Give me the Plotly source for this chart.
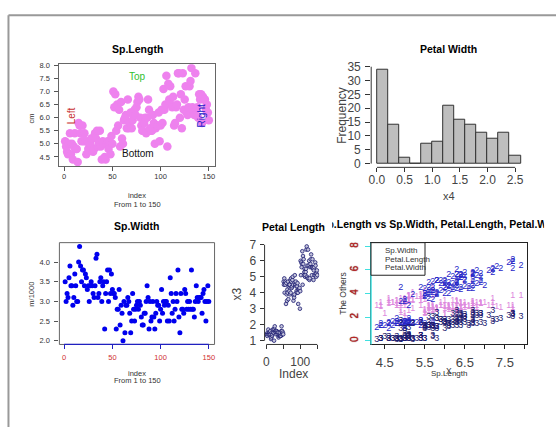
import plotly.graph_objects as go

# ---------------- data (iris) ----------------
sepal_length = [5.1,4.9,4.7,4.6,5.0,5.4,4.6,5.0,4.4,4.9,5.4,4.8,4.8,4.3,5.8,5.7,5.4,5.1,5.7,5.1,5.4,5.1,4.6,5.1,4.8,5.0,5.0,5.2,5.2,4.7,4.8,5.4,5.2,5.5,4.9,5.0,5.5,4.9,4.4,5.1,5.0,4.5,4.4,5.0,5.1,4.8,5.1,4.6,5.3,5.0,
                7.0,6.4,6.9,5.5,6.5,5.7,6.3,4.9,6.6,5.2,5.0,5.9,6.0,6.1,5.6,6.7,5.6,5.8,6.2,5.6,5.9,6.1,6.3,6.1,6.4,6.6,6.8,6.7,6.0,5.7,5.5,5.5,5.8,6.0,5.4,6.0,6.7,6.3,5.6,5.5,5.5,6.1,5.8,5.0,5.6,5.7,5.7,6.2,5.1,5.7,
                6.3,5.8,7.1,6.3,6.5,7.6,4.9,7.3,6.7,7.2,6.5,6.4,6.8,5.7,5.8,6.4,6.5,7.7,7.7,6.0,6.9,5.6,7.7,6.3,6.7,7.2,6.2,6.1,6.4,7.2,7.4,7.9,6.4,6.3,6.1,7.7,6.3,6.4,6.0,6.9,6.7,6.9,5.8,6.8,6.7,6.7,6.3,6.5,6.2,5.9]
sepal_width = [3.5,3.0,3.2,3.1,3.6,3.9,3.4,3.4,2.9,3.1,3.7,3.4,3.0,3.0,4.0,4.4,3.9,3.5,3.8,3.8,3.4,3.7,3.6,3.3,3.4,3.0,3.4,3.5,3.4,3.2,3.1,3.4,4.1,4.2,3.1,3.2,3.5,3.6,3.0,3.4,3.5,2.3,3.2,3.5,3.8,3.0,3.8,3.2,3.7,3.3,
               3.2,3.2,3.1,2.3,2.8,2.8,3.3,2.4,2.9,2.7,2.0,3.0,2.2,2.9,2.9,3.1,3.0,2.7,2.2,2.5,3.2,2.8,2.5,2.8,2.9,3.0,2.8,3.0,2.9,2.6,2.4,2.4,2.7,2.7,3.0,3.4,3.1,2.3,3.0,2.5,2.6,3.0,2.6,2.3,2.7,3.0,2.9,2.9,2.5,2.8,
               3.3,2.7,3.0,2.9,3.0,3.0,2.5,2.9,2.5,3.6,3.2,2.7,3.0,2.5,2.8,3.2,3.0,3.8,2.6,2.2,3.2,2.8,2.8,2.7,3.3,3.2,2.8,3.0,2.8,3.0,2.8,3.8,2.8,2.8,2.6,3.0,3.4,3.1,3.0,3.1,3.1,3.1,2.7,3.2,3.3,3.0,2.5,3.0,3.4,3.0]
petal_length = [1.4,1.4,1.3,1.5,1.4,1.7,1.4,1.5,1.4,1.5,1.5,1.6,1.4,1.1,1.2,1.5,1.3,1.4,1.7,1.5,1.7,1.5,1.0,1.7,1.9,1.6,1.6,1.5,1.4,1.6,1.6,1.5,1.5,1.4,1.5,1.2,1.3,1.4,1.3,1.5,1.3,1.3,1.3,1.6,1.9,1.4,1.6,1.4,1.5,1.4,
                4.7,4.5,4.9,4.0,4.6,4.5,4.7,3.3,4.6,3.9,3.5,4.2,4.0,4.7,3.6,4.4,4.5,4.1,4.5,3.9,4.8,4.0,4.9,4.7,4.3,4.4,4.8,5.0,4.5,3.5,3.8,3.7,3.9,5.1,4.5,4.5,4.7,4.4,4.1,4.0,4.4,4.6,4.0,3.3,4.2,4.2,4.2,4.3,3.0,4.1,
                6.0,5.1,5.9,5.6,5.8,6.6,4.5,6.3,5.8,6.1,5.1,5.3,5.5,5.0,5.1,5.3,5.5,6.7,6.9,5.0,5.7,4.9,6.7,4.9,5.7,6.0,4.8,4.9,5.6,5.8,6.1,6.4,5.6,5.1,5.6,6.1,5.6,5.5,4.8,5.4,5.6,5.1,5.1,5.9,5.7,5.2,5.0,5.2,5.4,5.1]
petal_width = [0.2,0.2,0.2,0.2,0.2,0.4,0.3,0.2,0.2,0.1,0.2,0.2,0.1,0.1,0.2,0.4,0.4,0.3,0.3,0.3,0.2,0.4,0.2,0.5,0.2,0.2,0.4,0.2,0.2,0.2,0.2,0.4,0.1,0.2,0.2,0.2,0.2,0.1,0.2,0.2,0.3,0.3,0.2,0.6,0.4,0.3,0.2,0.2,0.2,0.2,
               1.4,1.5,1.5,1.3,1.5,1.3,1.6,1.0,1.3,1.4,1.0,1.5,1.0,1.4,1.3,1.4,1.5,1.0,1.5,1.1,1.8,1.3,1.5,1.2,1.3,1.4,1.4,1.7,1.5,1.0,1.1,1.0,1.2,1.6,1.5,1.6,1.5,1.3,1.3,1.3,1.2,1.4,1.2,1.0,1.3,1.2,1.3,1.3,1.1,1.3,
               2.5,1.9,2.1,1.8,2.2,2.1,1.7,1.8,1.8,2.5,2.0,1.9,2.1,2.0,2.4,2.3,1.8,2.2,2.3,1.5,2.3,2.0,2.0,1.8,2.1,1.8,1.8,1.8,2.1,1.6,1.9,2.0,2.2,1.5,1.4,2.3,2.4,1.8,1.8,2.1,2.4,2.3,1.9,2.3,2.5,2.3,1.9,2.0,2.3,1.8]
index = list(range(1, 151))
hist_breaks = [0.0,0.2,0.4,0.6,0.8,1.0,1.2,1.4,1.6,1.8,2.0,2.2,2.4,2.6]
legend_labels = ["Sp.Width", "Petal.Length", "Petal.Width"]
idx_ticks = [0, 50, 100, 150]

# right-closed histogram (R style), computed in tenths to avoid float issues
b10 = [round(b * 10) for b in hist_breaks]
hist_counts = []
for i in range(len(b10) - 1):
    lo, hi = b10[i], b10[i + 1]
    c = sum(1 for v in petal_width if (lo < round(v * 10) <= hi) or (i == 0 and round(v * 10) == lo))
    hist_counts.append(c)
hist_centers = [(hist_breaks[i] + hist_breaks[i + 1]) / 2 for i in range(len(hist_breaks) - 1)]

W, H = 556, 430
def PX(x): return x / W
def PY(y): return 1 - y / H

FONT = "Arial, Liberation Sans, sans-serif"
fig = go.Figure()

# panel 1
fig.add_trace(go.Scatter(x=index, y=sepal_length, mode="markers", xaxis="x", yaxis="y",
                         marker=dict(symbol="circle", size=8.5, color="violet"), showlegend=False))
# panel 2
fig.add_trace(go.Bar(x=hist_centers, y=hist_counts, width=0.2, xaxis="x2", yaxis="y2",
                     marker=dict(color="#bebebe", line=dict(color="#333333", width=1)), showlegend=False))
# panel 3
fig.add_trace(go.Scatter(x=index, y=sepal_width, mode="markers", xaxis="x3", yaxis="y3",
                         marker=dict(symbol="circle", size=5, color="#0000ee"), showlegend=False))
# panel 4
fig.add_trace(go.Scatter(x=index, y=petal_length, mode="markers", xaxis="x4", yaxis="y4",
                         marker=dict(symbol="circle", size=3.6, color="#c4c4dc", line=dict(color="#1a1a70", width=0.8)),
                         showlegend=False))
# panel 5 (matplot with digits)
for series, ch, col in [(sepal_width, "1", "#dd88dd"), (petal_length, "2", "#2626c8"), (petal_width, "3", "#1c1c70")]:
    fig.add_trace(go.Scatter(x=sepal_length, y=series, mode="text", text=[ch] * len(series),
                             textfont=dict(family=FONT, size=9, color=col), xaxis="x5", yaxis="y5",
                             showlegend=False, cliponaxis=False))
# clipped title for panel 5
fig.add_trace(go.Scatter(x=[0.525], y=[0.5], mode="text",
                         text=["<b>Sp.Length vs Sp.Width, Petal.Length, Petal.Width</b>"],
                         textfont=dict(family=FONT, size=10.5, color="#000"), xaxis="x6", yaxis="y6",
                         showlegend=False, cliponaxis=True))

small = dict(family=FONT, size=7.5, color="#333")
big = dict(family=FONT, size=12, color="#444")

def axis(dom, rng, **kw):
    d = dict(domain=dom, range=rng, autorange=False, showgrid=False, zeroline=False,
             ticks="outside", ticklen=4, tickcolor="#555", tickwidth=1, fixedrange=True)
    d.update(kw)
    return d

layout = dict(width=W, height=H, margin=dict(l=0, r=0, t=0, b=0), autosize=False,
              plot_bgcolor="white", paper_bgcolor="white", showlegend=False, bargap=0)

# panel 1 axes
layout["xaxis"] = axis([PX(56.7), PX(212.7)], [-4.96, 155.96], anchor="y", tickvals=idx_ticks,
                       tickfont=small, showline=True, mirror=True, linecolor="#666", ticklabelstandoff=-1)
layout["yaxis"] = axis([PY(163.3), PY(59.5)], [4.156, 8.044], anchor="x", tickvals=[4.5,5.0,5.5,6.0,6.5,7.0,7.5,8.0],
                       ticktext=["4.5","5.0","5.5","6.0","6.5","7.0","7.5","8.0"],
                       tickfont=small, showline=True, mirror=True, linecolor="#666", ticklabelstandoff=3)
# panel 2 axes
layout["xaxis2"] = axis([PX(370.2), PX(526.3)], [-0.104, 2.704], anchor="y2", tickvals=[0,0.5,1,1.5,2,2.5],
                        ticktext=["0.0","0.5","1.0","1.5","2.0","2.5"], tickfont=big, ticklen=4, tickcolor="#333",
                        showline=False, ticklabelstandoff=-3)
layout["yaxis2"] = axis([PY(164.8), PY(61)], [-1.36, 35.36], anchor="x2", tickvals=[0,5,10,15,20,25,30,35],
                        tickfont=big, ticklen=5, tickcolor="#333", showline=False, ticklabelstandoff=2)
# panel 3 axes
layout["xaxis3"] = axis([PX(56.7), PX(212.7)], [-4.96, 155.96], anchor="y3", tickvals=idx_ticks,
                        tickfont=dict(family=FONT, size=7.5, color="#d03030"), tickcolor="#2020c0",
                        showline=False, ticklabelstandoff=2)
layout["yaxis3"] = axis([PY(345.7), PY(241.7)], [1.904, 4.496], anchor="x3", tickvals=[2.0,2.5,3.0,3.5,4.0],
                        ticktext=["2.0","2.5","3.0","3.5","4.0"], tickfont=small, showline=False, ticklabelstandoff=3)
# panel 4 axes
layout["xaxis4"] = axis([PX(263), PX(318)], [-4.96, 155.96], anchor="y4", tickvals=idx_ticks,
                        ticktext=["0", "", "100", ""], tickfont=big, tickcolor="#333", showline=False,
                        ticklabelstandoff=2)
layout["yaxis4"] = axis([PY(345.7), PY(241.7)], [0.764, 7.136], anchor="x4", tickvals=[1,2,3,4,5,6,7],
                        tickfont=big, tickcolor="#333", showline=False, ticklabelstandoff=1)
# panel 5 axes
layout["xaxis5"] = axis([PX(370), PX(526.5)], [4.156, 8.044], anchor="y5",
                        tickvals=[4.5,5.0,5.5,6.0,6.5,7.0,7.5,8.0],
                        ticktext=["4.5","","5.5","","6.5","","7.5",""],
                        tickfont=dict(family=FONT, size=13, color="#444"), tickcolor="#222",
                        showline=True, mirror=True, linecolor="#222", ticklabelstandoff=2)
layout["yaxis5"] = axis([PY(345.7), PY(241.7)], [-0.32, 8.32], anchor="x5", tickvals=[0,2,4,6,8],
                        tickfont=dict(family=FONT, size=10, color="#c02020", shadow="0px 0px 1px #400"),
                        tickangle=-90, tickcolor="#40e0e0", ticklen=5,
                        showline=True, mirror=True, linecolor="#222", ticklabelstandoff=3)
# clipping box for the panel 5 title
layout["xaxis6"] = dict(domain=[PX(331), PX(544)], range=[0, 1], visible=False, anchor="y6", fixedrange=True)
layout["yaxis6"] = dict(domain=[PY(236), PY(212)], range=[0, 1], visible=False, anchor="x6", fixedrange=True)

shapes = []
# page frame (top & left)
shapes.append(dict(type="line", xref="paper", yref="paper", x0=PX(5.5), x1=1.0, y0=PY(9.5), y1=PY(9.5),
                   line=dict(color="#999", width=2)))
shapes.append(dict(type="line", xref="paper", yref="paper", x0=PX(5.5), x1=PX(5.5), y0=PY(9.5), y1=0,
                   line=dict(color="#999", width=2)))
# panel 2 axis lines
shapes.append(dict(type="line", xref="x2 domain", yref="y2", x0=0, x1=0, y0=0, y1=35, line=dict(color="#333", width=1)))
shapes.append(dict(type="line", xref="x2", yref="y2 domain", x0=0, x1=2.5, y0=0, y1=0, line=dict(color="#333", width=1)))
# panel 3 box + blue axis line
shapes.append(dict(type="rect", xref="x3 domain", yref="y3 domain", x0=0, x1=1, y0=0, y1=1,
                   line=dict(color="#666", width=1)))
shapes.append(dict(type="line", xref="x3", yref="y3 domain", x0=0, x1=150, y0=0, y1=0, line=dict(color="#2020c0", width=1.3)))
# panel 4 axis lines
shapes.append(dict(type="line", xref="x4 domain", yref="y4", x0=0, x1=0, y0=1, y1=7, line=dict(color="#333", width=1)))
shapes.append(dict(type="line", xref="x4", yref="y4 domain", x0=0, x1=150, y0=0, y1=0, line=dict(color="#333", width=1)))
# panel 5 cyan y axis line
shapes.append(dict(type="line", xref="x5 domain", yref="y5 domain", x0=0, x1=0, y0=0, y1=1,
                   line=dict(color="#40e0e0", width=1.5)))
# panel 5 legend box
shapes.append(dict(type="rect", xref="paper", yref="paper", x0=PX(370), x1=PX(424.3), y0=PY(275), y1=PY(241.7),
                   line=dict(color="#222", width=1), fillcolor="white", layer="above"))
layout["shapes"] = shapes

ann = []
def A(x, y, text, size, color="#222", bold=False, angle=0, xanchor="center"):
    ann.append(dict(xref="paper", yref="paper", x=PX(x), y=PY(y), text=("<b>%s</b>" % text) if bold else text,
                    showarrow=False, textangle=angle, xanchor=xanchor, yanchor="middle",
                    font=dict(family=FONT, size=size, color=color)))

# titles
A(135, 44, "Sp.Length", 10.5, "#000", bold=True)
A(448, 44, "Petal Width", 10.5, "#000", bold=True)
A(134, 225, "Sp.Width", 10.5, "#000", bold=True)
A(292, 226, "Petal Length", 10.5, "#000", bold=True)
# panel 1 labels
A(135, 72, "Top", 10, "#30c030")
A(136, 151, "Bottom", 10, "#111")
A(69, 112, "Left", 10, "#c83030", angle=-90)
A(200, 112, "Right", 10, "#2020c8", angle=-90)
A(29, 115, "cm", 7.5, "#333", angle=-90)
A(135, 194, "index", 7.5, "#333")
A(135, 203, "From 1 to 150", 7.5, "#333")
# panel 2 labels
A(340, 112, "Frequency", 12, "#444", angle=-90)
A(448, 194, "x4", 11, "#444")
# panel 3 labels
A(29, 294, "m/1000", 7.5, "#333", angle=-90)
A(135, 375, "index", 7.5, "#333")
A(135, 383, "From 1 to 150", 7.5, "#333")
# panel 4 labels
A(235, 294, "x3", 12, "#444", angle=-90)
A(292, 376, "Index", 12, "#444")
# panel 5 labels
A(341.7, 293, "The Others", 8.5, "#333", angle=-90)
A(448, 375, "Sp.Length", 8, "#333")
A(448, 373, "X", 8.5, "#333")
for i, lab in enumerate(legend_labels):
    A(382, 250 + 8.5 * i, lab, 8, "#333", xanchor="left")
layout["annotations"] = ann

fig.update_layout(**layout)
fig.write_html("out.html", config={"displayModeBar": False},
               post_script="document.body.style.margin='0px';")
